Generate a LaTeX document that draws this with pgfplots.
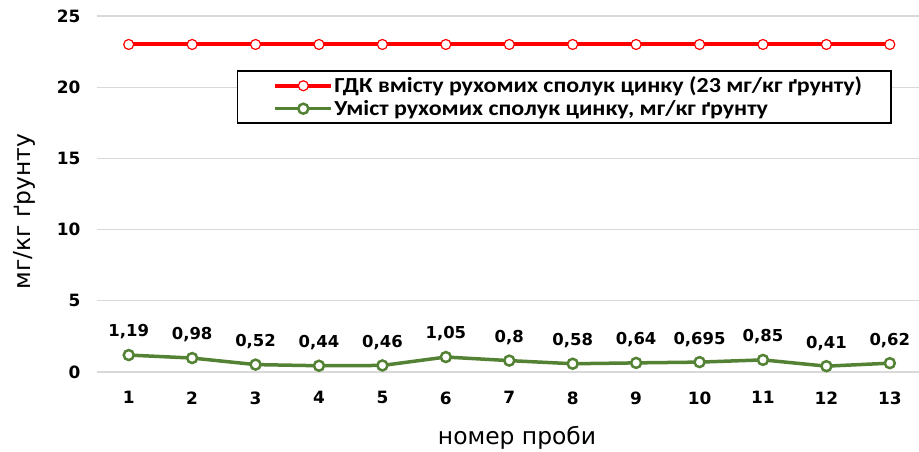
\documentclass[border=0pt]{standalone}
\usepackage{pgfplots}
\pgfplotsset{compat=1.18}
\usepackage{pgfplotstable}
\usepackage{fontspec}
\setmainfont{DejaVu Sans}
\newfontfamily\carlito[FakeStretch=1.12]{Carlito}
\definecolor{zgreen}{HTML}{548235}
\definecolor{gridgray}{HTML}{D9D9D9}
\pgfplotstableread{
x y lab
1 1.19 1,19
2 0.98 0,98
3 0.52 0,52
4 0.44 0,44
5 0.46 0,46
6 1.05 1,05
7 0.8 0,8
8 0.58 0,58
9 0.64 0,64
10 0.695 0,695
11 0.85 0,85
12 0.41 0,41
13 0.62 0,62
}\zinc
\pgfplotstableread{
x y
1 23
2 23
3 23
4 23
5 23
6 23
7 23
8 23
9 23
10 23
11 23
12 23
13 23
}\gdk
\begin{document}
\begin{tikzpicture}
\begin{axis}[
  name=ax,
  scale only axis,
  width=822bp, height=356bp,
  xmin=0.5, xmax=13.46,
  ymin=0, ymax=25,
  xtick={1,...,13},
  ytick={0,5,...,25},
  axis line style={draw=none},
  major tick length=0pt,
  ymajorgrids,
  grid style={gridgray, line width=1.2bp},
  /pgf/number format/assume math mode=true,
  tick label style={font=\fontsize{17}{18}\selectfont\bfseries},
  yticklabel style={xshift=-13bp},
  xticklabel style={yshift=-16bp},
  xlabel={номер проби},
  ylabel={мг/кг ґрунту},
  every axis x label/.style={at={(axis description cs:0.511,-0.185)},anchor=center,font=\fontsize{23.5}{26}\selectfont},
  every axis y label/.style={at={(axis description cs:-0.088,0.45)},anchor=center,rotate=90,font=\fontsize{23.5}{26}\selectfont},
  legend style={at={(axis description cs:0.170,0.847)},anchor=north west,
    draw=black, line width=1.2bp, font=\carlito\bfseries\fontsize{21.5}{24}\selectfont,
    row sep=3bp, inner xsep=2bp, inner ysep=4.5bp, column sep=0bp,
    nodes={inner xsep=1bp, inner ysep=1.5bp}},
  legend cell align=left,
  legend image code/.code={\path (-34bp,0bp); \draw[#1,mark repeat=2,mark phase=2] plot coordinates {(0bp,0bp) (28bp,0bp) (56bp,0bp)};},
  clip=false,
]
\addplot[red, line width=4bp, mark=*, mark size=5bp,
  mark options={fill=white, draw=red, line width=1.2bp}] table[x=x,y=y]{\gdk};
\addlegendentry{ГДК вмісту рухомих сполук цинку (23 мг/кг ґрунту)\hspace*{26bp}}
\addplot[zgreen, line width=3.5bp, mark=*, mark size=5bp,
  mark options={fill=white, draw=zgreen, line width=2.5bp},
  nodes near coords, point meta=explicit symbolic,
  every node near coord/.append style={font=\fontsize{16.5}{18}\selectfont\bfseries, text=black, anchor=center, yshift=23bp}]
  table[x=x,y=y,meta=lab]{\zinc};
\addlegendentry{Уміст рухомих сполук цинку, мг/кг ґрунту}
\end{axis}
\pgfresetboundingbox
\path ([xshift=-97bp,yshift=-80bp]ax.south west) rectangle ++(919bp,452bp);
\end{tikzpicture}
\end{document}
